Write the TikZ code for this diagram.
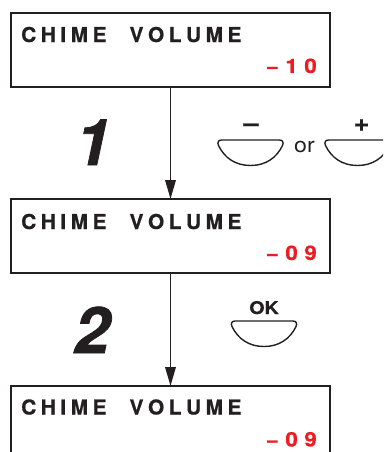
\documentclass[tikz,border=0pt]{standalone}
\usepackage{fontspec}
\setmainfont{TeX Gyre Heros}
\newfontfamily\lcd{TeX Gyre Heros}[FakeStretch=1.12,FakeBold=0.6]
\newfontfamily\lcdn{TeX Gyre Heros}[FakeStretch=1.02,FakeBold=0.6]
\newfontfamily\orfont{TeX Gyre Heros}[FakeStretch=1.1]
\newfontfamily\stepfont{TeX Gyre Heros}[FakeBold=1.2]
\usetikzlibrary{arrows.meta,calc}
\definecolor{ink}{RGB}{35,31,32}
\definecolor{lcdred}{RGB}{237,28,36}
\makeatletter
\newdimen\trkamt \trkamt=4.5pt
\newcommand\trk[1]{\trk@#1\relax}
\def\trk@#1{\ifx#1\relax\else#1\expandafter\trk@@\fi}
\def\trk@@#1{\ifx#1\relax\else\kern\trkamt#1\expandafter\trk@@\fi}
\newcommand\wsp{\kern14pt}
\newcommand\rtrk[1]{{\trkamt=6.5pt\relax\trk{#1}}}
\makeatother
\begin{document}
\begin{tikzpicture}[x=1pt,y=-1pt,
  lcdbox/.style={draw=ink,line width=1.9pt,minimum width=319pt,minimum height=74pt,inner sep=0pt,outer sep=0pt},
  lcdtxt/.style={inner sep=0pt,text=ink,font=\lcdn\bfseries\fontsize{20.5}{24}\selectfont},
  lcdnum/.style={inner sep=0pt,text=lcdred,font=\lcd\bfseries\fontsize{20}{24}\selectfont},
  stepnum/.style={inner sep=0pt,text=ink,font=\stepfont\bfseries\itshape\fontsize{64}{70}\selectfont},
  flow/.style={draw=ink,line width=1.9pt,-{Triangle[length=19pt,width=10.5pt]}},
  keylbl/.style={inner sep=0pt,text=ink,font=\lcd\bfseries\fontsize{24}{26}\selectfont},
  oklbl/.style={inner sep=0pt,text=ink,font=\lcd\bfseries\fontsize{17.5}{20}\selectfont},
  orlbl/.style={inner sep=0pt,text=ink,font=\orfont\fontsize{21}{24}\selectfont},
  btnline/.style={draw=ink,line width=1.4pt},
  btn/.pic={\draw[btnline] (-29,0) -- (29,0) .. controls (32,0) and (33.5,2.5) .. (32,5.5)
      .. controls (26,18) and (15,25.5) .. (0,25.5)
      .. controls (-15,25.5) and (-26,18) .. (-32,5.5)
      .. controls (-33.5,2.5) and (-32,0) .. (-29,0) -- cycle;}
]
\useasboundingbox (0,0) rectangle (383,452);
\clip (0,0) rectangle (383,452);
% display boxes
\node[lcdbox] (b1) at (170.5,50) {};
\node[lcdbox] (b2) at (170.5,236) {};
\node[lcdbox] (b3) at (170.5,423) {};
\node[lcdtxt,anchor=base west] (t1) at ($(b1.north west)+(10,29)$) {\trk{CHIME\wsp VOLUME}};
\node[lcdnum,anchor=base east] (v1) at ($(b1.south east)+(-13,-14)$) {\rtrk{−10}};
\node[lcdtxt,anchor=base west] (t2) at ($(b2.north west)+(10,30)$) {\trk{CHIME\wsp VOLUME}};
\node[lcdnum,anchor=base east] (v2) at ($(b2.south east)+(-13,-13)$) {\rtrk{−09}};
\node[lcdtxt,anchor=base west] (t3) at ($(b3.north west)+(10,28.5)$) {\trk{CHIME\wsp VOLUME}};
\node[lcdnum,anchor=base east] (v3) at ($(b3.south east)+(-13,-13.5)$) {\rtrk{−09}};
% flow arrows
\draw[flow] (b1.south) -- (b2.north);
\draw[flow] (b2.south) -- (b3.north);
% step numbers
\node[stepnum,anchor=base] (s1) at (93,165) {1};
\node[stepnum,anchor=base] (s2) at (92,353) {2};
% keys
\pic (kminus) at (250.5,140) {btn};
\pic (kplus) at (357.5,140) {btn};
\pic (kok) at (264,321) {btn};
\node[keylbl,anchor=base] (lminus) at (251,131) {–};
\node[keylbl,anchor=base] (lplus) at (361.5,131) {+};
\node[orlbl,anchor=base west] (lor) at (294,152) {or};
\node[oklbl,anchor=base] (lok) at (264,314) {OK};
\end{tikzpicture}
\end{document}
